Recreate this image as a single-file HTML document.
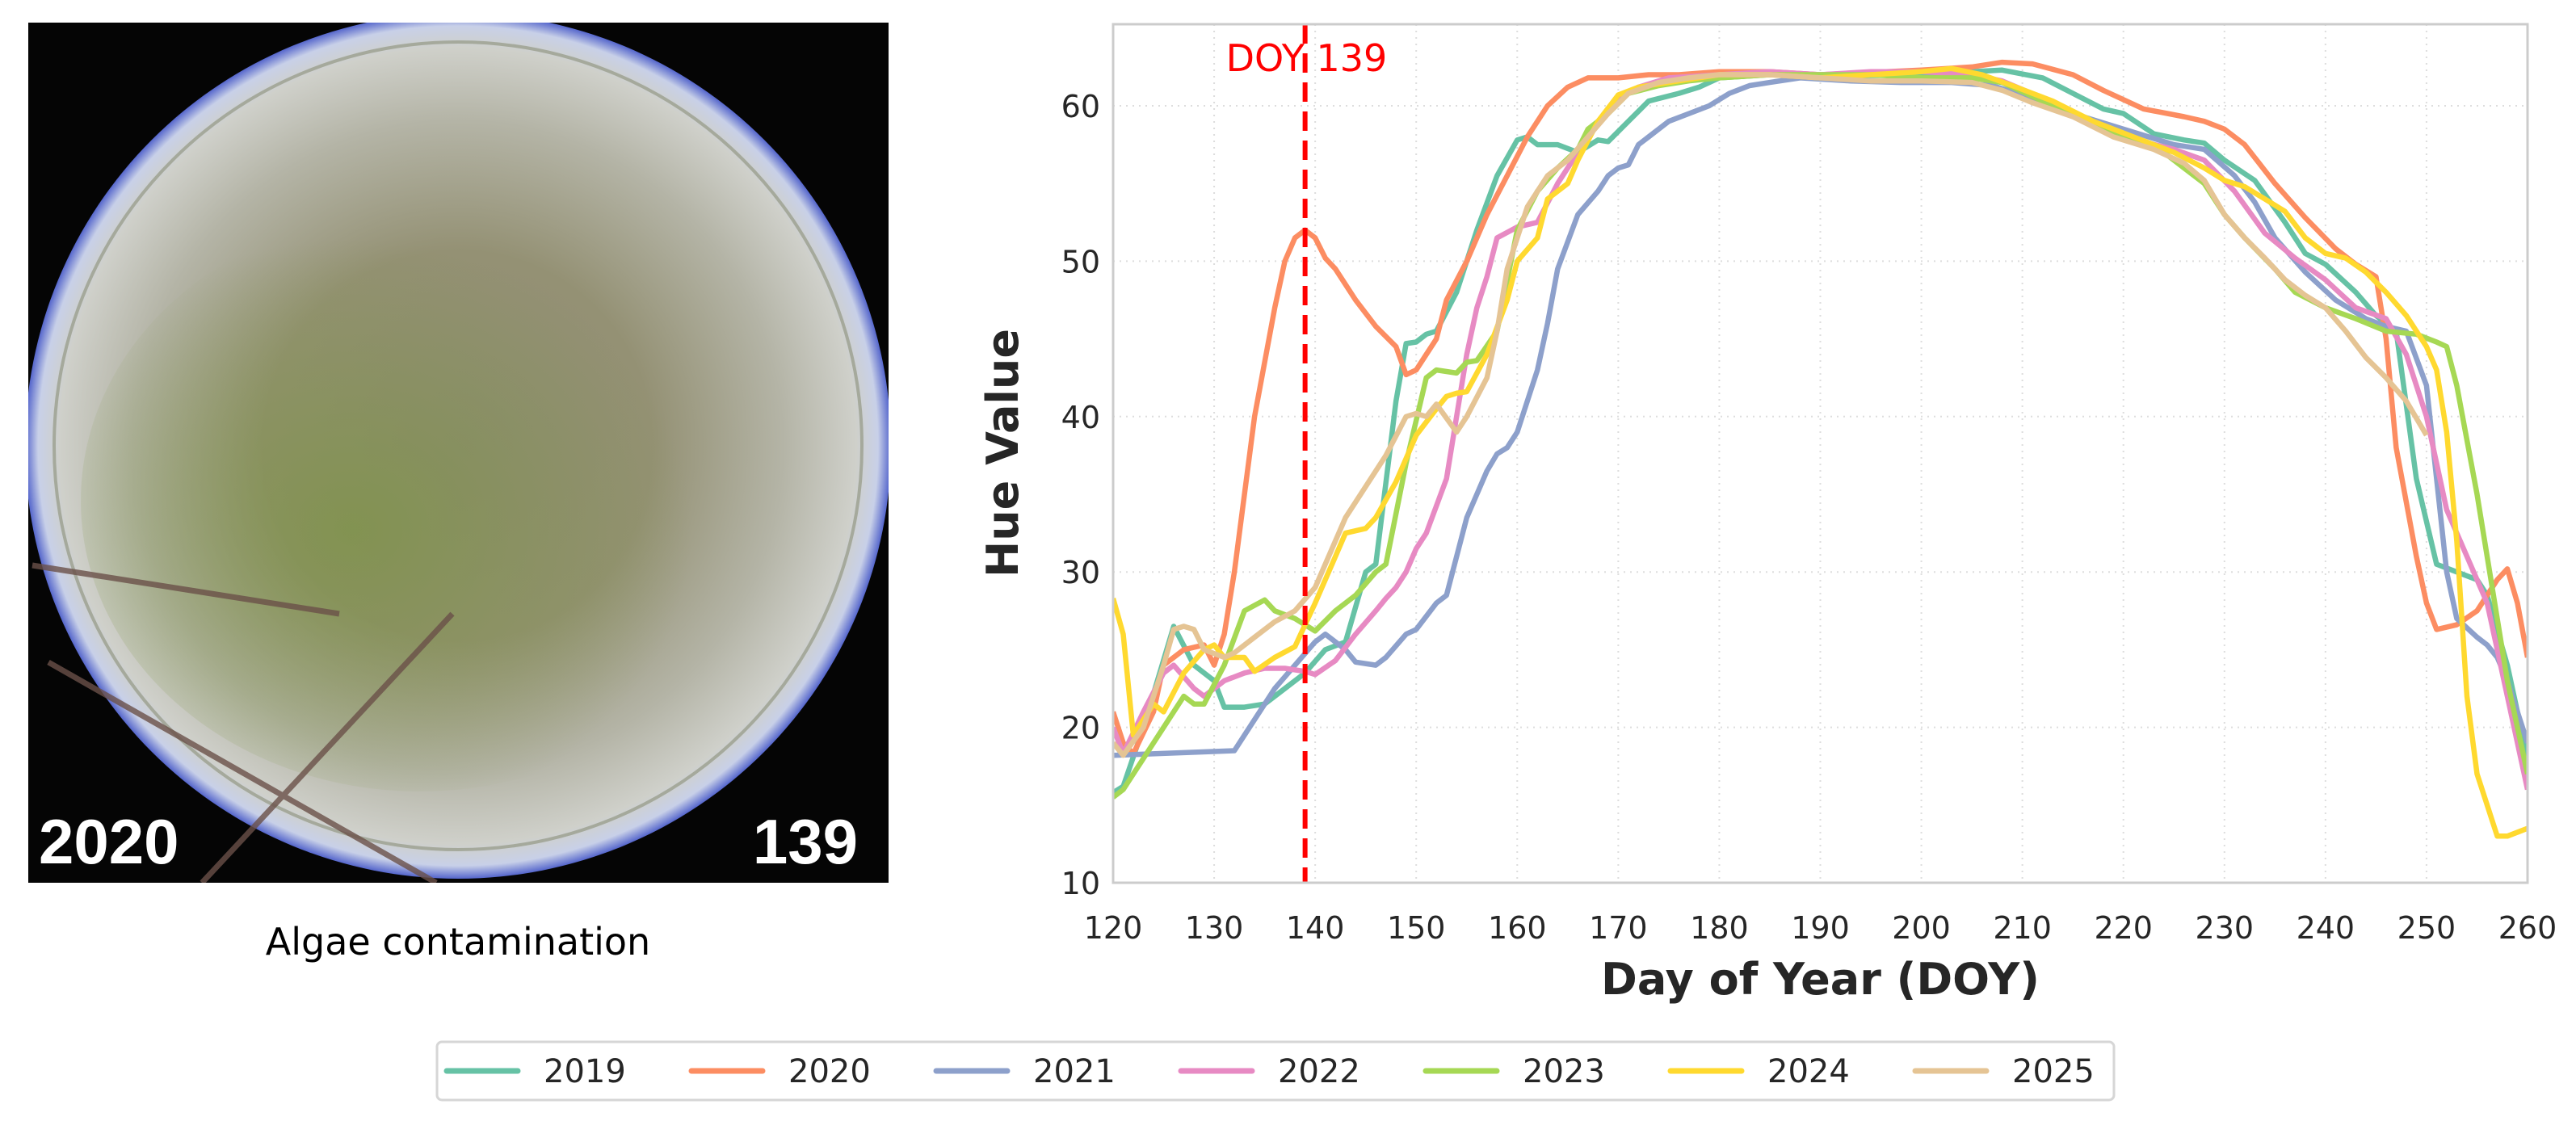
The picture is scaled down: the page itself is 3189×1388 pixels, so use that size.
<!DOCTYPE html>
<html><head><meta charset="utf-8">
<style>
html,body{margin:0;padding:0;background:#fff;}
body{width:3189px;height:1384px;position:relative;overflow:hidden;font-family:"DejaVu Sans","Liberation Sans",sans-serif;}
</style></head>
<body>
<svg id="fig" width="3189" height="1384" viewBox="0 0 3189 1384" xmlns="http://www.w3.org/2000/svg" font-family="DejaVu Sans, Liberation Sans, sans-serif">
  <defs>
    <radialGradient id="lens" cx="50%" cy="50%" r="50%">
      <stop offset="0%" stop-color="#8f8c74"/>
      <stop offset="45%" stop-color="#949174"/>
      <stop offset="75%" stop-color="#b4b4a6"/>
      <stop offset="92%" stop-color="#cfd0ca"/>
      <stop offset="97%" stop-color="#c8d0e8"/>
      <stop offset="100%" stop-color="#5566cc"/>
    </radialGradient>
    <radialGradient id="algae" cx="40%" cy="55%" r="50%">
      <stop offset="0%" stop-color="#7d9446" stop-opacity="0.75"/>
      <stop offset="100%" stop-color="#7d9446" stop-opacity="0"/>
    </radialGradient>
    <clipPath id="imgclip"><rect x="35" y="28" width="1065" height="1065"/></clipPath>
  </defs>
  <g clip-path="url(#imgclip)">
    <rect x="35" y="28" width="1065" height="1065" fill="#050505"/>
    <circle cx="567" cy="552" r="536" fill="url(#lens)"/>
    <ellipse cx="520" cy="620" rx="420" ry="360" fill="url(#algae)"/>
    <circle cx="567" cy="552" r="500" fill="none" stroke="#8a8f78" stroke-width="4" opacity="0.6"/>
    <path d="M40 700 L420 760 M60 820 L540 1093 M250 1093 L560 760" stroke="#6a5048" stroke-width="7" fill="none" opacity="0.8"/>
  </g>
  <text x="48" y="1069" font-family="Liberation Sans, sans-serif" font-weight="bold" font-size="78" fill="#fff">2020</text>
  <text x="1062" y="1069" text-anchor="end" font-family="Liberation Sans, sans-serif" font-weight="bold" font-size="78" fill="#fff">139</text>
  <text x="567" y="1182" text-anchor="middle" font-size="46" fill="#000">Algae contamination</text>
  <g id="chart"></g>
  <g id="legend"></g>
</svg>
<script>
const years = ["2019","2020","2021","2022","2023","2024","2025"];
const colors = ["#66c2a5","#fc8d62","#8da0cb","#e78ac3","#a6d854","#ffd92f","#e5c494"];
const xTicks = [120,130,140,150,160,170,180,190,200,210,220,230,240,250,260];
const yTicks = [10,20,30,40,50,60];
const markerDoy = 139;
const s2019 = [[120,15.8],[121,16.2],[123,20],[126,26.5],[128,24],[130,23],[131,21.3],[133,21.3],[135,21.5],[137,22.5],[139,23.5],[141,25],[143,25.5],[145,30],[146,30.5],[148,41],[149,44.7],[150,44.8],[151,45.3],[152,45.5],[154,48],[156,52],[158,55.5],[160,57.8],[161,58],[162,57.5],[164,57.5],[166,57],[168,57.8],[169,57.7],[171,59],[173,60.3],[176,60.8],[178,61.2],[180,61.8],[185,62],[190,61.9],[200,62],[205,62.2],[208,62.3],[212,61.8],[215,60.8],[218,59.8],[220,59.5],[223,58.2],[226,57.8],[228,57.6],[230,56.5],[233,55.2],[236,52.5],[238,50.5],[240,49.8],[243,48],[245,46.5],[247,45.5],[249,36],[251,30.5],[253,30],[255,29.5],[256,28.5],[258,24],[260,18]];
const s2020 = [[120,21],[121,19],[122,18.3],[124,21],[125,24],[127,25],[129,25.3],[130,24],[131,26],[132,30],[134,40],[136,47],[137,50],[138,51.5],[139,52],[140,51.5],[141,50.2],[142,49.5],[144,47.5],[146,45.8],[148,44.5],[149,42.7],[150,43],[151,44],[152,45],[153,47.5],[155,50],[157,53],[159,55.5],[161,58],[163,60],[165,61.2],[167,61.8],[170,61.8],[173,62],[176,62],[180,62.2],[185,62.2],[190,62],[200,62.3],[205,62.5],[208,62.8],[211,62.7],[215,62],[218,61],[222,59.8],[226,59.3],[228,59],[230,58.5],[232,57.5],[235,55],[238,52.8],[241,50.8],[243,49.8],[245,49],[246,45],[247,38],[249,31],[250,28],[251,26.3],[253,26.6],[255,27.5],[257,29.5],[258,30.2],[259,28],[260,24.5]];
const s2021 = [[120,18.2],[132,18.5],[134,20.5],[136,22.5],[138,24],[140,25.5],[141,26],[143,25],[144,24.2],[146,24],[147,24.5],[149,26],[150,26.3],[152,28],[153,28.5],[155,33.5],[156,35],[157,36.5],[158,37.6],[159,38],[160,39],[162,43],[163,46],[164,49.5],[166,53],[168,54.5],[169,55.5],[170,56],[171,56.2],[172,57.5],[173,58],[175,59],[177,59.5],[179,60],[181,60.8],[183,61.3],[185,61.5],[188,61.8],[193,61.6],[198,61.5],[203,61.5],[207,61.3],[210,60.7],[215,59.5],[220,58.5],[225,57.5],[228,57.2],[231,55.5],[233,53.8],[235,51.5],[238,49.3],[241,47.5],[244,46.3],[246,45.8],[248,45.5],[250,42],[251,36],[252,30],[253,27],[255,25.8],[256,25.3],[257,24.5],[258,23],[260,19]];
const s2022 = [[120,20],[121,18.3],[123,21],[125,23.5],[126,24],[128,22.5],[129,22],[131,23],[133,23.5],[135,23.8],[137,23.8],[139,23.6],[140,23.4],[142,24.3],[144,26],[146,27.5],[147,28.3],[148,29],[149,30],[150,31.5],[151,32.5],[153,36],[154,40],[155,44],[156,47],[157,49],[158,51.5],[160,52.2],[162,52.5],[164,55],[166,57],[168,59],[170,60.5],[172,61.2],[175,61.8],[180,62],[185,62.2],[190,62],[195,62.2],[200,62.2],[205,62],[208,61.6],[212,60.5],[216,59],[220,58],[225,57.2],[228,56.5],[231,54.5],[234,51.8],[237,50.2],[240,48.8],[243,47],[246,46.3],[248,44],[250,40],[252,34],[254,31],[256,28],[258,22],[260,16]];
const s2023 = [[120,15.5],[121,16],[123,18],[125,20],[127,22],[128,21.5],[129,21.5],[131,24],[133,27.5],[135,28.2],[136,27.5],[138,27],[140,26.2],[142,27.5],[144,28.5],[146,30],[147,30.5],[149,37],[151,42.5],[152,43],[154,42.8],[155,43.5],[156,43.6],[158,45.5],[160,52],[162,54.5],[164,56],[166,57.2],[167,58.5],[169,59.5],[171,60.8],[174,61.3],[177,61.6],[180,61.8],[185,62],[190,62],[195,62],[200,61.8],[205,61.8],[208,61.5],[212,60.3],[216,59],[220,58],[224,57],[226,56],[228,55],[230,53],[232,51.5],[235,49.5],[237,48],[240,47],[243,46.3],[246,45.5],[249,45.3],[251,44.8],[252,44.5],[253,42],[255,35],[257,27],[258,23],[260,17]];
const s2024 = [[120,28.3],[121,26],[122,19.5],[123,20.5],[124,21.5],[125,21],[127,23.5],[129,25],[130,25.3],[131,24.5],[133,24.5],[134,23.6],[136,24.5],[138,25.2],[140,28],[142,31],[143,32.5],[145,32.8],[146,33.5],[148,35.8],[150,38.8],[152,40.5],[153,41.3],[154,41.5],[155,41.6],[157,44],[159,47.5],[160,50],[162,51.5],[163,54],[165,55],[166,56.5],[168,59],[170,60.7],[172,61.2],[175,61.5],[180,62],[185,62],[190,61.8],[195,62],[200,62.2],[203,62.4],[206,62],[209,61.3],[213,60.3],[217,59],[221,58],[225,57],[228,56],[230,55.2],[232,54.8],[234,54],[236,53.2],[238,51.5],[240,50.5],[242,50.2],[244,49.3],[246,48],[248,46.5],[250,44.5],[251,43],[252,39],[253,32],[254,22],[255,17],[256,15],[257,13],[258,13],[260,13.5]];
const s2025 = [[120,19],[121,18.2],[123,20],[125,24],[126,26.3],[127,26.5],[128,26.3],[129,25],[131,24.5],[132,24.8],[134,25.8],[136,26.8],[138,27.5],[140,29],[142,32],[143,33.5],[145,35.5],[147,37.5],[149,40],[150,40.2],[151,40],[152,40.8],[154,39],[155,40],[157,42.5],[158,45.5],[159,49.5],[161,53.5],[163,55.5],[165,56.5],[167,58],[169,59.5],[171,60.8],[174,61.5],[177,61.8],[180,62],[185,62],[190,61.8],[195,61.6],[200,61.6],[205,61.5],[208,61],[211,60.2],[215,59.3],[219,58],[223,57.2],[226,56.3],[228,55.2],[230,53],[232,51.5],[234,50.2],[236,48.8],[238,47.8],[240,47],[242,45.5],[244,43.8],[246,42.5],[248,41],[250,38.8]];
const series = [s2019,s2020,s2021,s2022,s2023,s2024,s2025];

const NS="http://www.w3.org/2000/svg";
const L=1378,R=3129,T=30,B=1093;
const xMin=120,xMax=260,yMin=10,yMax=65.25;
function xs(v){return L+(v-xMin)/(xMax-xMin)*(R-L);}
function ys(v){return B-(v-yMin)/(yMax-yMin)*(B-T);}
function mk(tag,attrs,parent){const e=document.createElementNS(NS,tag);for(const k in attrs)e.setAttribute(k,attrs[k]);parent.appendChild(e);return e;}
const chart=document.getElementById('chart');
xTicks.forEach(t=>{
  const g=mk('line',{x1:xs(t),x2:xs(t),y1:T,y2:B,stroke:'#dddddd','stroke-width':2,'stroke-dasharray':'2,6'},chart);
  
  
  const tx=mk('text',{x:xs(t),y:1162,'text-anchor':'middle','font-size':38,fill:'#262626'},chart);
  tx.textContent=t;
  
  
});
yTicks.forEach(t=>{
  const g=mk('line',{x1:L,x2:R,y1:ys(t),y2:ys(t),stroke:'#dddddd','stroke-width':2,'stroke-dasharray':'2,6'},chart);
  
  
  const tx=mk('text',{x:L-16,y:ys(t)+14,'text-anchor':'end','font-size':38,fill:'#262626'},chart);
  tx.textContent=t;
  
  
});
const clipR=mk('clipPath',{id:'plotclip'},chart);
mk('rect',{x:L,y:T,width:R-L,height:B-T},clipR);
series.forEach((s,i)=>{
  const d=s.map((p,j)=>(j?'L':'M')+xs(p[0]).toFixed(1)+' '+ys(p[1]).toFixed(1)).join(' ');
  const p=mk('path',{d:d,fill:'none',stroke:colors[i],'stroke-width':6.5,'stroke-linejoin':'round','clip-path':'url(#plotclip)'},chart);
  
  
});
const ml=mk('line',{x1:xs(markerDoy),x2:xs(markerDoy),y1:T,y2:B,stroke:'#ff0000','stroke-width':6,'stroke-dasharray':'24,12'},chart);


const mt=mk('text',{x:xs(markerDoy)-98,y:88,'font-size':46,fill:'#ff0000'},chart);
mt.textContent='DOY 139';


const fr=mk('rect',{x:L,y:T,width:R-L,height:B-T,fill:'none',stroke:'#cccccc','stroke-width':3},chart);


const xt=mk('text',{x:(L+R)/2,y:1231,'text-anchor':'middle','font-size':54,'font-weight':'bold',fill:'#262626'},chart);
xt.textContent='Day of Year (DOY)';


const yt=mk('text',{x:0,y:0,'text-anchor':'middle','font-size':54,'font-weight':'bold',fill:'#262626',transform:'translate(1260 561) rotate(-90)'},chart);
yt.textContent='Hue Value';


const lg=document.getElementById('legend');
const box=mk('rect',{x:541,y:1290,width:2076,height:72,rx:6,fill:'#fff',stroke:'#d6d6d6','stroke-width':3},lg);


years.forEach((y,i)=>{
  const x0=553+i*303;
  const h=mk('line',{x1:x0,x2:x0+88,y1:1326,y2:1326,stroke:colors[i],'stroke-width':7,'stroke-linecap':'round'},lg);
  
  
  const t=mk('text',{x:x0+120,y:1340,'font-size':40,fill:'#262626'},lg);
  t.textContent=y;
  
  
});
</script>
</body></html>
